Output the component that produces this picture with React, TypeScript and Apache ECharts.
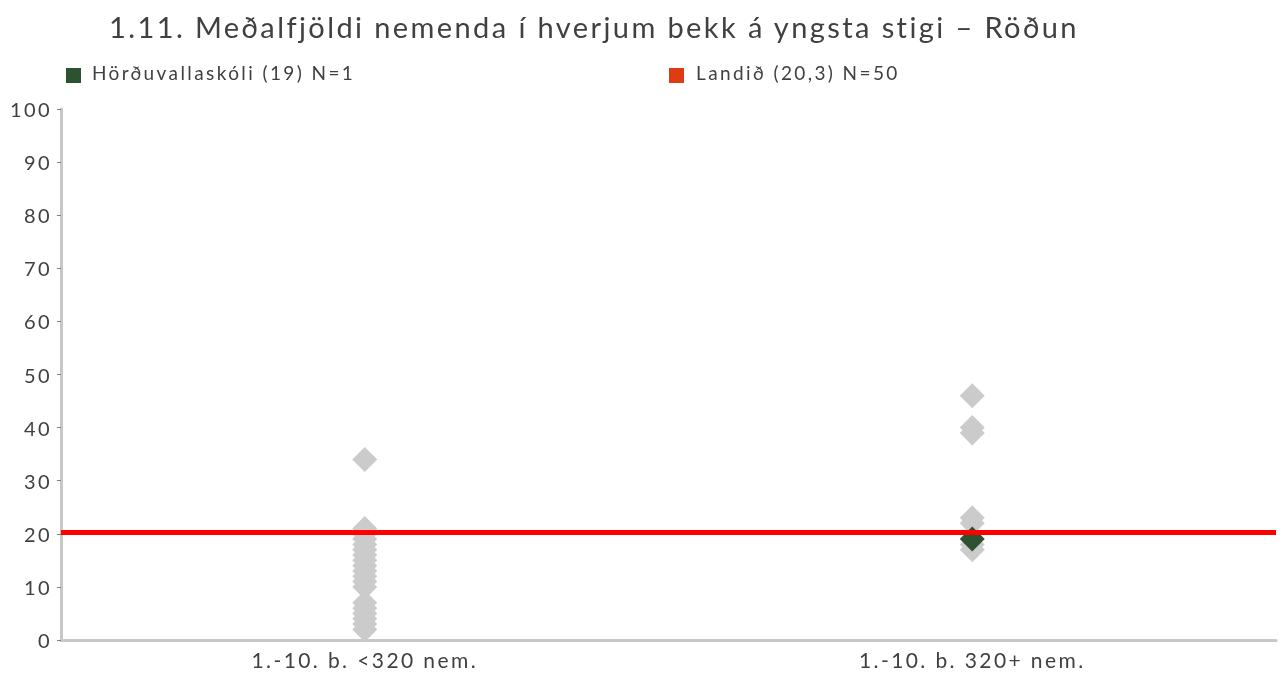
import React, { useEffect, useRef } from "react";
import * as echarts from "echarts";

const categories = ["1.-10. b. <320 nem.", "1.-10. b. 320+ nem."];
const smallSchools = [34, 21, 20, 19, 18, 17, 16, 15, 14, 13, 12, 11, 10, 7, 6, 5, 4, 3, 2];
const largeSchools = [46, 40, 39, 23, 22, 18, 17];
const schoolName = "Hörðuvallaskóli (19) N=1";
const schoolValue = 19;
const schoolCategory = 1;
const nationalName = "Landið (20,3) N=50";
const nationalValue = 20.3;
const yTicks = { min: 0, max: 100, interval: 10 };

const FONT = "Lato, 'Noto Sans', sans-serif";
const TXT = "#404040";
const GREEN = "#2d5230";
const LEGEND_RED = "#e03a12";

export default function App() {
  const ref = useRef<HTMLDivElement>(null);
  useEffect(() => {
    if (!ref.current) return;
    const chart = echarts.init(ref.current, undefined, { renderer: "svg" });
    const grey: [number, number][] = [
      ...smallSchools.map((v) => [0, v] as [number, number]),
      ...largeSchools.map((v) => [1, v] as [number, number]),
    ];
    chart.setOption({
      animation: false,
      textStyle: { fontFamily: FONT },
      title: {
        text: "1.11. Meðalfjöldi nemenda í hverjum bekk á yngsta stigi – Röðun",
        left: 104,
        top: 7,
        textStyle: { fontFamily: FONT, fontSize: 29, fontWeight: "normal", color: TXT },
      },
      graphic: [
        { type: "rect", left: 66, top: 68, shape: { width: 15, height: 15 }, style: { fill: GREEN } },
        {
          type: "text",
          left: 92,
          top: 63,
          style: { text: schoolName, font: `19px ${FONT}`, fill: TXT },
        },
        { type: "rect", left: 669, top: 68, shape: { width: 15, height: 15 }, style: { fill: LEGEND_RED } },
        {
          type: "text",
          left: 696,
          top: 63,
          style: { text: nationalName, font: `19px ${FONT}`, fill: TXT },
        },
      ],
      grid: { left: 61, right: 9, top: 109, bottom: 34, containLabel: false },
      xAxis: {
        type: "category",
        data: categories,
        boundaryGap: true,
        axisLine: { lineStyle: { color: "#c8c8c8", width: 3 } },
        axisTick: { show: false },
        axisLabel: { fontFamily: FONT, fontSize: 21, color: TXT, margin: 9 },
      },
      yAxis: {
        type: "value",
        min: yTicks.min,
        max: yTicks.max,
        interval: yTicks.interval,
        axisLine: { show: true, lineStyle: { color: "#c8c8c8", width: 3 } },
        axisTick: { show: true, length: 4, lineStyle: { color: "#808080", width: 1 } },
        splitLine: { show: false },
        axisLabel: { fontFamily: FONT, fontSize: 20, color: TXT, margin: 9 },
      },
      series: [
        {
          name: "grey",
          type: "scatter",
          data: grey,
          symbol: "diamond",
          symbolSize: [25, 25],
          itemStyle: { color: "#cbcbcb", opacity: 1 },
          z: 2,
        },
        {
          name: nationalName,
          type: "line",
          data: [],
          itemStyle: { color: LEGEND_RED },
          markLine: {
            silent: true,
            symbol: "none",
            label: { show: false },
            lineStyle: { color: "#ff0000", width: 5, type: "solid", opacity: 1 },
            data: [{ yAxis: nationalValue }],
          },
          z: 3,
        },
        {
          name: schoolName,
          type: "scatter",
          data: [[schoolCategory, schoolValue]],
          symbol: "diamond",
          symbolSize: [25, 25],
          itemStyle: { color: GREEN, opacity: 1 },
          z: 4,
        },
      ],
    });
    return () => chart.dispose();
  }, []);
  return (
    <div
      ref={ref}
      style={{ position: "fixed", left: 0, top: 0, width: 1285, height: 674, letterSpacing: "2.4px" }}
    />
  );
}
